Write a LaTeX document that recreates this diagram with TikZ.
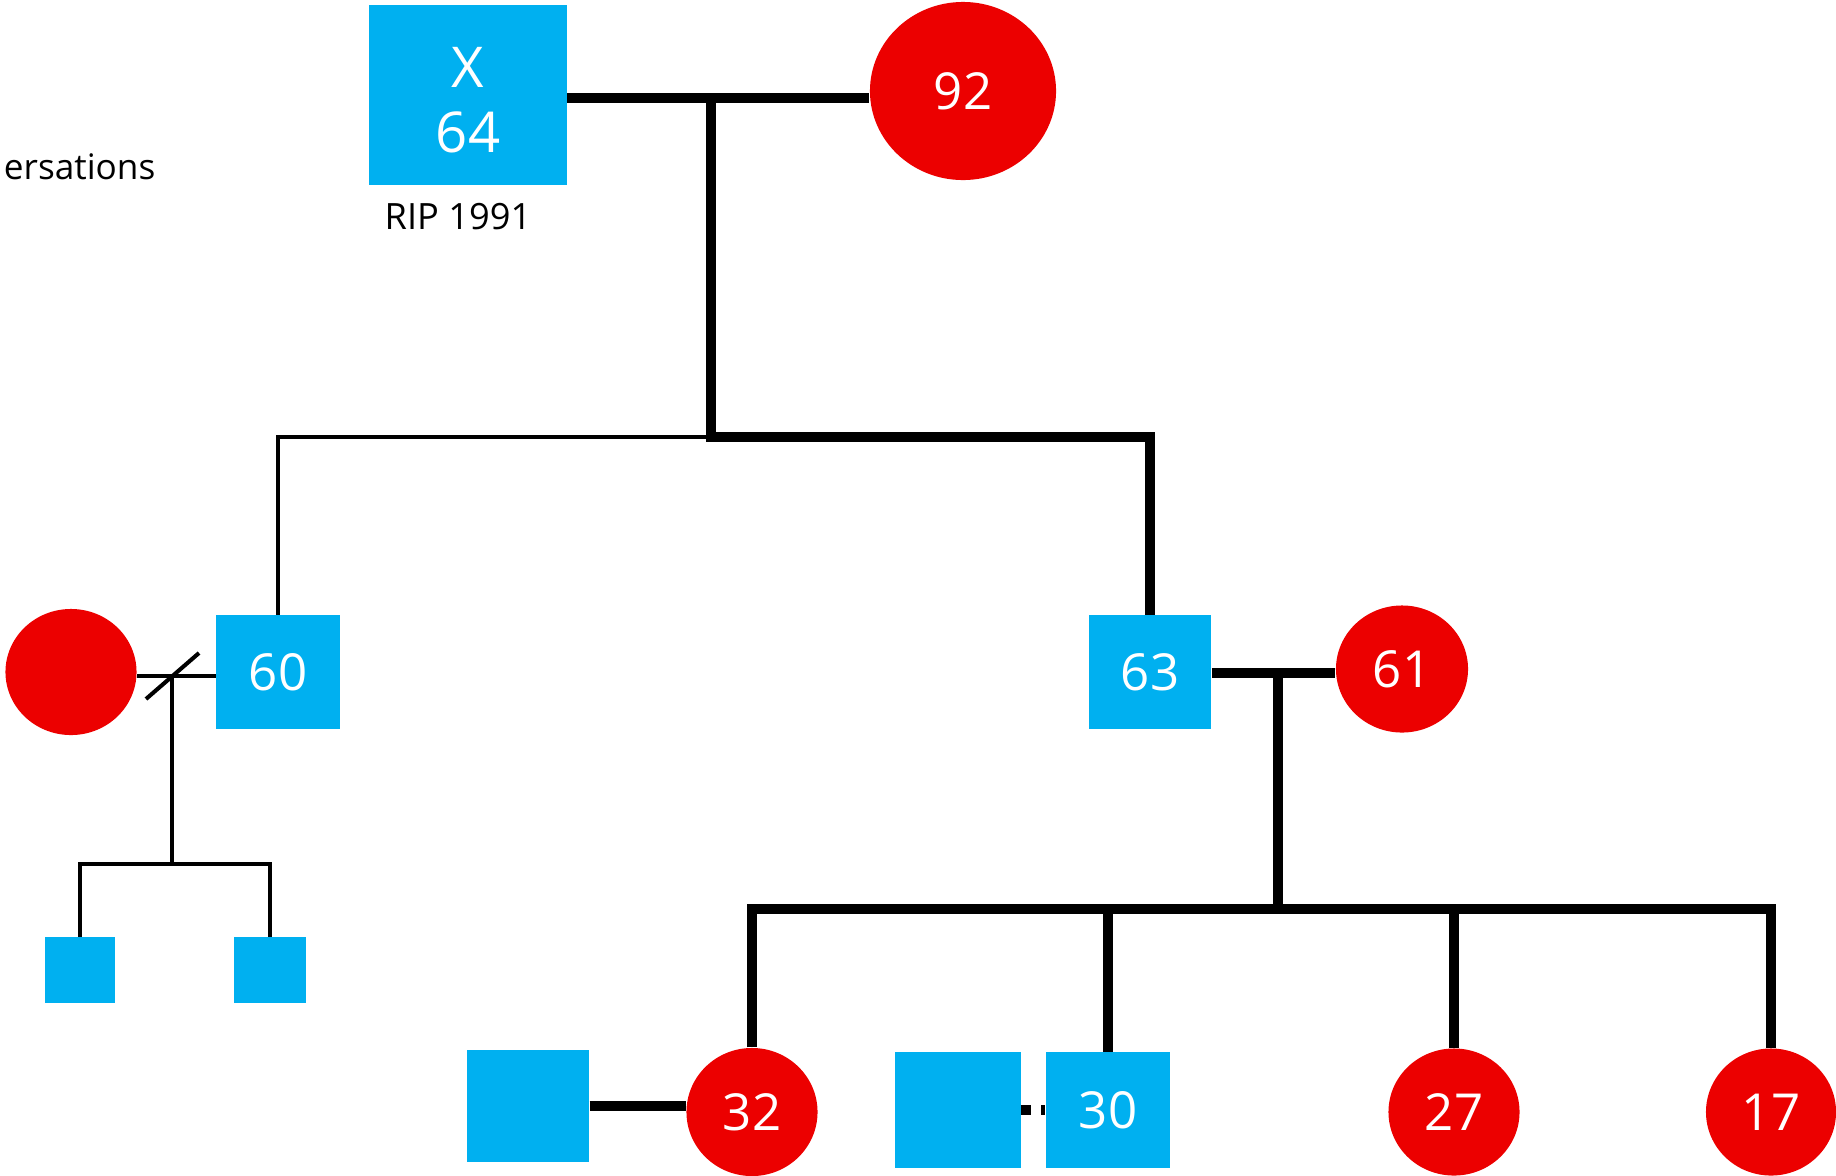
\documentclass[tikz,border=0pt]{standalone}
\usepackage{fontspec}
\setmainfont{Open Sans}
\usepackage{tikz}
\usetikzlibrary{shapes.geometric}
\definecolor{boyblue}{RGB}{0,176,240}
\definecolor{girlred}{RGB}{236,0,0}
\begin{document}
\begin{tikzpicture}[x=0.01cm,y=-0.01cm,
    male/.style={rectangle,fill=boyblue,inner sep=0pt,text=white,font=\fontsize{14.5}{17}\selectfont},
    female/.style={ellipse,fill=girlred,inner sep=0pt,text=white,font=\fontsize{14.5}{17}\selectfont},
    thickl/.style={line width=2.6pt},
    thinl/.style={line width=1.15pt}]
        \useasboundingbox (0,0) rectangle (1836,1175);

        % first generation
        \node[male,minimum width=1.97cm,minimum height=1.80cm] (grandpa) at (468,95) {};
        \node[text=white,align=center,font=\fontsize{16}{18.5}\selectfont] (gpname) at (468,100) {X\\64};
        \node[female,minimum width=1.86cm,minimum height=1.78cm] (grandma) at (963,91) {92};
        \node[anchor=east,inner sep=0pt,font=\fontsize{10}{12}\selectfont] (note) at (156,167) {ersations};
        \node[font=\fontsize{10.3}{12}\selectfont] (rip) at (458,217) {RIP 1991};

        % second generation
        \node[female,minimum width=1.31cm,minimum height=1.26cm] (exwife) at (71,672) {};
        \node[male,minimum width=1.23cm,minimum height=1.13cm] (son60) at (278,672) {60};
        \node[male,minimum width=1.22cm,minimum height=1.13cm] (son63) at (1150,672) {63};
        \node[female,minimum width=1.32cm,minimum height=1.27cm] (wife61) at (1402,669) {61};

        % third generation
        \node[male,minimum width=0.70cm,minimum height=0.65cm] (gs1) at (80,970) {};
        \node[male,minimum width=0.71cm,minimum height=0.65cm] (gs2) at (270,970) {};
        \node[male,minimum width=1.22cm,minimum height=1.12cm] (sp32) at (528,1106) {};
        \node[female,minimum width=1.31cm,minimum height=1.28cm] (d32) at (752,1112) {32};
        \node[male,minimum width=1.25cm,minimum height=1.15cm] (sp30) at (958,1110) {};
        \node[male,minimum width=1.24cm,minimum height=1.15cm] (d30) at (1108,1110) {30};
        \node[female,minimum width=1.31cm,minimum height=1.27cm] (d27) at (1454,1112) {27};
        \node[female,minimum width=1.30cm,minimum height=1.27cm] (d17) at (1771,1112) {17};

        %% the lines
        \coordinate (gp) at (711,98);
        \coordinate (sib1) at (711,437);
        \draw[thickl] (grandpa.east |- gp) -- (grandma.west |- gp);
        \draw[thickl] (gp) -- (sib1) -| (son63.north);
        \draw[thinl] (sib1) -| (son60.north);

        % divorced couple
        \coordinate (dv) at (172,676);
        \coordinate (sib2) at (172,864);
        \draw[thinl] (exwife.east |- dv) -- (son60.west |- dv);
        \draw[thinl] (dv) ++(-26,23) -- ++(53,-46);
        \draw[thinl] (dv) -- (sib2);
        \draw[thinl] (gs1.north) |- (sib2) -| (gs2.north);

        % 63 + 61
        \coordinate (m2) at (1278,673);
        \coordinate (sib3) at (1278,909);
        \draw[thickl] (son63.east |- m2) -- (wife61.west |- m2);
        \draw[thickl] (m2) -- (sib3);
        \draw[thickl] (d32.north) |- (sib3) -| (d17.north);
        \foreach \c in {d30,d27}
        {
          \draw[thickl] (\c.north |- sib3) -- (\c.north);
        }
        \draw[thickl] (sp32.east) -- (sp32.east -| d32.west);
        \draw[thickl,dash pattern=on 0.1cm off 0.1cm] (sp30.east) -- (d30.west);
      \end{tikzpicture}
\end{document}
